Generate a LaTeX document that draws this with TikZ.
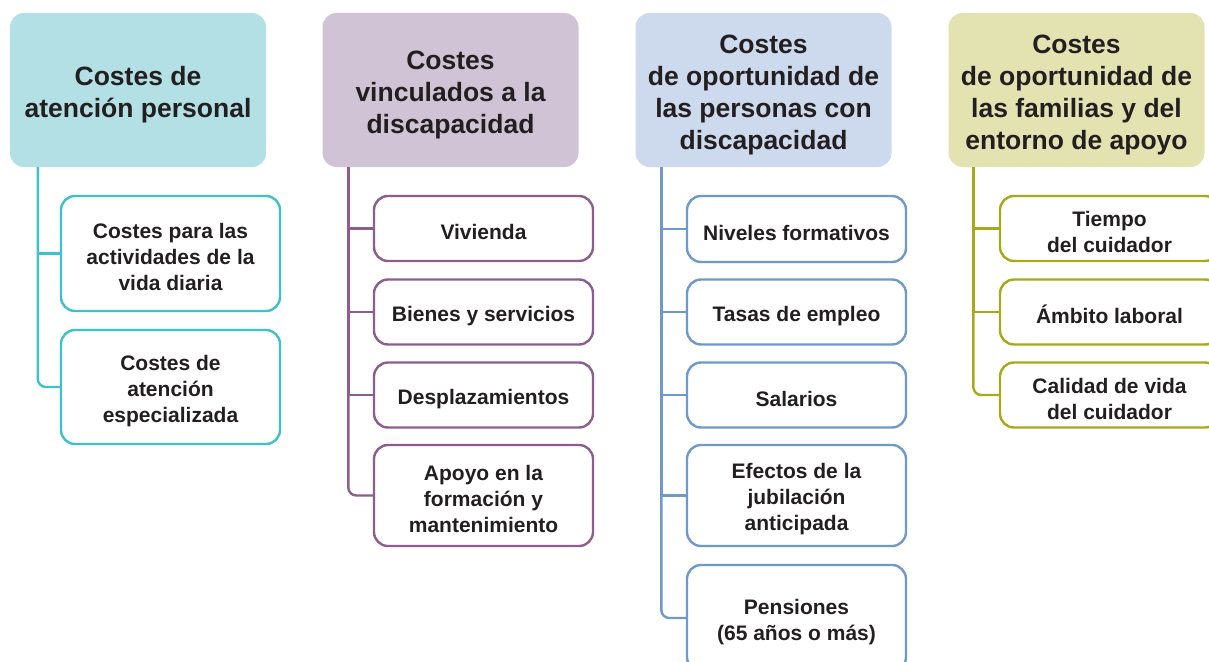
\documentclass[tikz,border=0pt]{standalone}
\usepackage{fontspec}
\setmainfont{Liberation Sans}
\usepackage{tikz}

\definecolor{tealfill}{HTML}{B2E0E4}
\definecolor{tealline}{HTML}{3DC1CA}
\definecolor{lilafill}{HTML}{D0C3D6}
\definecolor{lilaline}{HTML}{8B5E8D}
\definecolor{bluefill}{HTML}{CDD9EC}
\definecolor{blueline}{HTML}{6E99CA}
\definecolor{olivefill}{HTML}{E3E2B1}
\definecolor{oliveline}{HTML}{A9A819}
\definecolor{ink}{HTML}{231F20}

% strut that pushes the lines a bit below the box centre
\newcommand{\lift}{\rule{0pt}{1.08em}}

\begin{document}
\begin{tikzpicture}%
        [x=1pt, y=-1pt,
        head/.style={rounded corners=14pt, inner sep=0pt, align=center,
            minimum width=256pt, minimum height=154pt, text=ink,
            font=\fontsize{26.5}{32}\selectfont\bfseries},
        item/.style={rounded corners=14pt, inner sep=0pt, align=center,
            minimum width=219pt, line width=2.4pt, fill=white, text=ink,
            font=\fontsize{21}{26}\selectfont\bfseries},
        tree/.style={line width=2.4pt},
        last/.style={line width=2.4pt, rounded corners=8pt}]
    %
    \useasboundingbox (0,0) rectangle (1209,661);
    %
    %% Headers
    \node[head, fill=tealfill] (hA) at (138,90) {\lift Costes de\\atención personal};
    \node[head, fill=lilafill] (hB) at (450.5,90) {\lift Costes\\vinculados a la\\discapacidad};
    \node[head, fill=bluefill] (hC) at (763.5,90) {\lift Costes\\de oportunidad de\\las personas con\\discapacidad};
    \node[head, fill=olivefill] (hD) at (1076.5,90) {\lift Costes\\de oportunidad de\\las familias y del\\entorno de apoyo};
    %
    %% Column A
    \node[item, draw=tealline, minimum height=115pt] (a1) at (170.5,253.5) {\lift Costes para las\\actividades de la\\vida diaria};
    \node[item, draw=tealline, minimum height=114pt] (a2) at (170.5,387) {\lift Costes de\\atención\\especializada};
    \draw[tree, tealline] ([xshift=28pt]hA.south west) |- (a1.west);
    \draw[last, tealline] ([xshift=28pt]hA.south west) |- (a2.west);
    %
    %% Column B
    \node[item, draw=lilaline, minimum height=65pt] (b1) at (483.5,228.5) {\lift Vivienda};
    \node[item, draw=lilaline, minimum height=65pt] (b2) at (483.5,312) {\lift Bienes y servicios};
    \node[item, draw=lilaline, minimum height=65pt] (b3) at (483.5,395) {\lift Desplazamientos};
    \node[item, draw=lilaline, minimum height=101pt] (b4) at (483.5,495.5) {\lift Apoyo en la\\formación y\\mantenimiento};
    \draw[tree, lilaline] ([xshift=26pt]hB.south west) |- (b1.west);
    \draw[tree, lilaline] ([xshift=26pt]hB.south west) |- (b2.west);
    \draw[tree, lilaline] ([xshift=26pt]hB.south west) |- (b3.west);
    \draw[last, lilaline] ([xshift=26pt]hB.south west) |- (b4.west);
    %
    %% Column C
    \node[item, draw=blueline, minimum height=66pt] (c1) at (796.5,229) {\lift Niveles formativos};
    \node[item, draw=blueline, minimum height=65pt] (c2) at (796.5,312) {\lift Tasas de empleo};
    \node[item, draw=blueline, minimum height=65pt] (c3) at (796.5,395) {\lift Salarios};
    \node[item, draw=blueline, minimum height=101pt] (c4) at (796.5,495.5) {\lift Efectos de la\\jubilación\\anticipada};
    \node[item, draw=blueline, minimum height=106pt] (c5) at (796.5,618) {\lift Pensiones\\(65 años o más)};
    \draw[tree, blueline] ([xshift=26pt]hC.south west) |- (c1.west);
    \draw[tree, blueline] ([xshift=26pt]hC.south west) |- (c2.west);
    \draw[tree, blueline] ([xshift=26pt]hC.south west) |- (c3.west);
    \draw[tree, blueline] ([xshift=26pt]hC.south west) |- (c4.west);
    \draw[last, blueline] ([xshift=26pt]hC.south west) |- (c5.west);
    %
    %% Column D
    \node[item, draw=oliveline, minimum height=65pt] (d1) at (1109.5,228.5) {\lift Tiempo\\del cuidador};
    \node[item, draw=oliveline, minimum height=65pt] (d2) at (1109.5,312) {\lift Ámbito laboral};
    \node[item, draw=oliveline, minimum height=65pt] (d3) at (1109.5,395) {\lift Calidad de vida\\del cuidador};
    \draw[tree, oliveline] ([xshift=25pt]hD.south west) |- (d1.west);
    \draw[tree, oliveline] ([xshift=25pt]hD.south west) |- (d2.west);
    \draw[last, oliveline] ([xshift=25pt]hD.south west) |- (d3.west);
    %
\end{tikzpicture}
\end{document}
